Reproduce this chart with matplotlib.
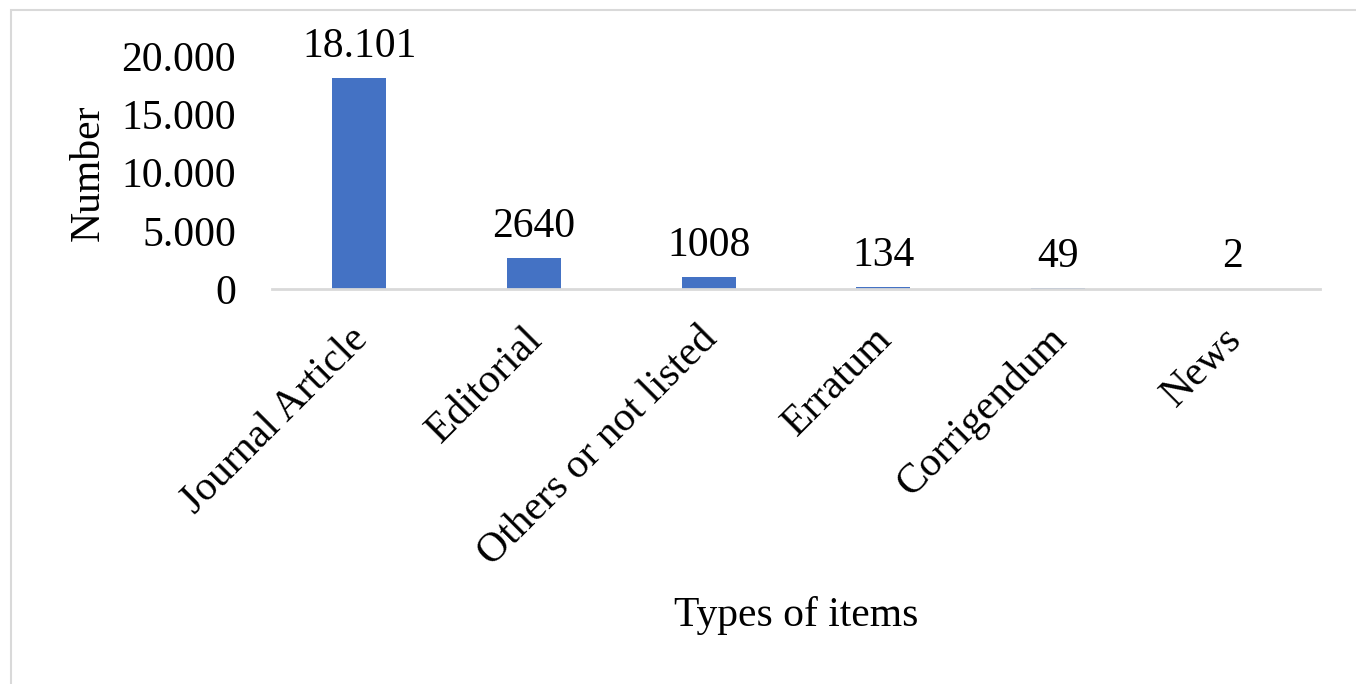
import matplotlib.pyplot as plt
import matplotlib.transforms as mtransforms
from matplotlib.patches import Rectangle

categories = ['Journal Article', 'Editorial', 'Others or not listed',
              'Erratum', 'Corrigendum', 'News']
values = [18101, 2640, 1008, 134, 49, 2]
value_labels = ['18.101', '2640', '1008', '134', '49', '2']
yticks = [0, 5000, 10000, 15000, 20000]
ytick_labels = ['0', '5.000', '10.000', '15.000', '20.000']

plt.rcParams['font.family'] = ['Liberation Serif', 'DejaVu Serif']

fig = plt.figure(figsize=(13.56, 6.84), dpi=100)
ax = fig.add_axes([272 / 1356, 1 - 289 / 684, 1048 / 1356, 233 / 684])

x = range(len(categories))
bars = ax.bar(x, values, width=0.31, color='#4472C4')

for b, lab in zip(bars, value_labels):
    ax.annotate(lab, (b.get_x() + b.get_width() / 2, b.get_height()),
                xytext=(0, 9), textcoords='offset points',
                ha='center', va='bottom', fontsize=30)

ax.set_xlim(-0.5, len(categories) - 0.5)
ax.set_ylim(0, 20000)
ax.set_yticks(yticks)
ax.set_yticklabels(ytick_labels, fontsize=30)
ax.set_xticks(list(x))
ax.set_xticklabels(categories, fontsize=30, rotation=45,
                   ha='right', rotation_mode='anchor')
ax.tick_params(axis='y', length=0, pad=26)
ax.tick_params(axis='x', length=0, pad=12)

# nudge the slanted labels down-left a bit
shift = mtransforms.ScaledTranslation(-11 / 100, -14 / 100, fig.dpi_scale_trans)
for t in ax.get_xticklabels():
    t.set_transform(t.get_transform() + shift)

for s in ['top', 'right', 'left']:
    ax.spines[s].set_visible(False)
ax.spines['bottom'].set_color('#d9d9d9')
ax.spines['bottom'].set_linewidth(2)

ax.set_ylabel('Number', fontsize=30, labelpad=10)
ax.set_xlabel('Types of items', fontsize=30, labelpad=16)

# chart frame
fig.patches.append(Rectangle((11 / 1356, -0.1), 1.2, 1 - 10 / 684 + 0.1,
                             transform=fig.transFigure, fill=False,
                             edgecolor='#d9d9d9', linewidth=1.5))

fig.savefig('out.png', dpi=100)
